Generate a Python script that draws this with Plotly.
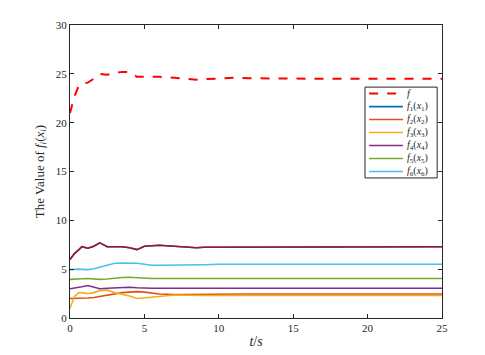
import plotly.graph_objects as go

# time samples and values
t = [0, 0.3, 0.6, 0.8, 1.2, 1.6, 2.0, 2.5, 3.0, 3.5, 4.0, 4.5, 5.0, 5.5, 6.0,
     7, 8, 8.5, 9, 10, 11, 12, 14, 16, 18, 20, 22, 25]
f_total = [21.0, 22.7, 23.8, 24.0, 24.1, 24.5, 25.0, 24.9, 25.1, 25.2, 25.2, 24.7, 24.7, 24.7, 24.7,
           24.6, 24.45, 24.4, 24.45, 24.5, 24.6, 24.55, 24.5, 24.5, 24.5, 24.5, 24.5, 24.5]
f1 = [6.0, 6.6, 7.0, 7.3, 7.15, 7.35, 7.7, 7.3, 7.3, 7.3, 7.2, 7.0, 7.35, 7.4, 7.45,
      7.35, 7.25, 7.2, 7.25, 7.25, 7.3, 7.3, 7.3, 7.3, 7.3, 7.3, 7.3, 7.3]
f2 = [2.0, 2.0, 2.02, 2.03, 2.05, 2.1, 2.2, 2.35, 2.5, 2.6, 2.65, 2.7, 2.65, 2.55, 2.45,
      2.4, 2.42, 2.45, 2.45, 2.45, 2.45, 2.45, 2.45, 2.45, 2.45, 2.45, 2.45, 2.45]
f3 = [1.0, 2.2, 2.6, 2.6, 2.5, 2.6, 2.8, 2.85, 2.6, 2.45, 2.25, 2.0, 2.05, 2.1, 2.2,
      2.35, 2.3, 2.3, 2.3, 2.3, 2.3, 2.3, 2.3, 2.3, 2.3, 2.3, 2.3, 2.3]
f4 = [3.0, 3.05, 3.15, 3.2, 3.33, 3.15, 3.0, 3.05, 3.1, 3.15, 3.15, 3.1, 3.05, 3.05, 3.05,
      3.05, 3.05, 3.05, 3.05, 3.05, 3.05, 3.05, 3.05, 3.05, 3.05, 3.05, 3.05, 3.05]
f5 = [3.95, 3.95, 4.0, 4.02, 4.05, 4.0, 3.95, 4.0, 4.1, 4.15, 4.17, 4.12, 4.05, 4.05, 4.05,
      4.05, 4.05, 4.05, 4.05, 4.05, 4.05, 4.05, 4.05, 4.05, 4.05, 4.05, 4.05, 4.05]
f6 = [4.95, 5.0, 5.0, 4.98, 4.95, 5.05, 5.2, 5.35, 5.6, 5.62, 5.6, 5.6, 5.5, 5.4, 5.4,
      5.4, 5.45, 5.45, 5.45, 5.5, 5.5, 5.5, 5.5, 5.5, 5.5, 5.5, 5.5, 5.5]

names = ["<i>f</i><sub>%d</sub>(<i>x</i><sub>%d</sub>)" % (i, i) for i in range(1, 7)]
colors = ['#0072BD', '#D95319', '#EDB120', '#7E2F8E', '#77AC30', '#4DBEEE']
series = [f1, f2, f3, f4, f5, f6]

SERIF = 'Times New Roman, Liberation Serif, serif'

fig = go.Figure()
fig.add_trace(go.Scatter(x=t, y=f_total, mode='lines', name='f', showlegend=False,
                         line=dict(color='#FF0000', width=2, dash='dash')))
for nm, c, s in zip(names, colors, series):
    fig.add_trace(go.Scatter(x=t, y=s, mode='lines', name=nm, showlegend=False,
                             line=dict(color=c, width=1.6)))
# f1 shows up dark red in the plot, legend keeps blue
fig.add_trace(go.Scatter(x=t, y=f1, mode='lines', showlegend=False,
                         line=dict(color='#A2142F', width=1.6)))

# compact legend box drawn by hand (plotly's rows are too tall)
leg_x0, leg_x1, leg_top, leg_bot = 0.793, 0.987, 0.788, 0.478
row_h = (leg_top - leg_bot) / 7
fig.add_shape(type='rect', xref='paper', yref='paper', x0=leg_x0, x1=leg_x1, y0=leg_bot, y1=leg_top,
              line=dict(color='#262626', width=1), fillcolor='white', layer='above')
leg_labels = ['<i>f</i>'] + names
leg_colors = ['#FF0000'] + colors
for i, (lab, c) in enumerate(zip(leg_labels, leg_colors)):
    yc = leg_top - row_h * (i + 0.5)
    fig.add_shape(type='line', xref='paper', yref='paper', x0=leg_x0 + 0.011, x1=leg_x0 + 0.102,
                  y0=yc, y1=yc, layer='above',
                  line=dict(color=c, width=2 if i == 0 else 1.6, dash='dash' if i == 0 else 'solid'))
    fig.add_annotation(xref='paper', yref='paper', x=leg_x0 + 0.108, y=yc, text=lab, showarrow=False,
                       xanchor='left', yanchor='middle', font=dict(family=SERIF, size=10, color='#262626'))

axis_style = dict(showline=True, linecolor='#262626', linewidth=1, mirror='ticks',
                  ticks='inside', ticklen=4, tickcolor='#262626', showgrid=False, zeroline=False,
                  automargin=False,
                  tickfont=dict(family=SERIF, size=11, color='#262626'))

# page body adds an 8px offset, so the figure is a bit smaller than the window
fig.update_layout(
    width=477, height=347,
    margin=dict(l=62, r=43, t=17, b=37),
    paper_bgcolor='white', plot_bgcolor='white',
    font=dict(family=SERIF, color='#262626'),
    xaxis=dict(range=[0, 25], dtick=5, title=dict(text='<i>t</i>/<i>s</i>', standoff=2,
               font=dict(size=14)), **axis_style),
    yaxis=dict(range=[0, 30], dtick=5,
               title=dict(text='The Value of <i>f<sub>i</sub></i>(<i>x<sub>i</sub></i>)', standoff=8,
                          font=dict(size=13)), **axis_style),
    showlegend=False,
)

fig.write_html("out.html")
